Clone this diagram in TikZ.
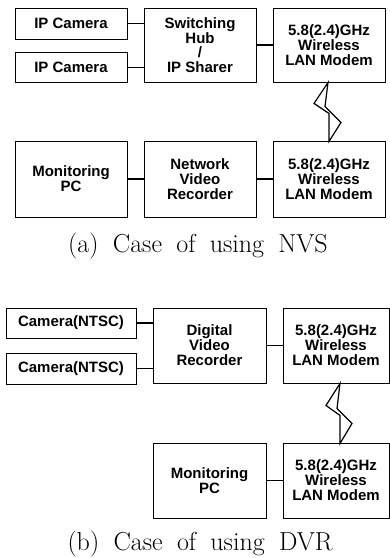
\documentclass[tikz,border=0pt]{standalone}
\usepackage{fontspec}
\newfontfamily\boxfont{Liberation Sans}
\usetikzlibrary{calc}
\newcommand\wsp{\spaceskip=0.55em\relax}
\begin{document}
\begin{tikzpicture}[x=1pt,y=-1pt,
  box/.style={draw, line width=0.9pt, inner sep=0pt, align=center,
    font=\boxfont\bfseries\fontsize{15}{15}\selectfont},
  wire/.style={line width=1.1pt},
  bolt/.style={draw, line width=1.2pt, line join=miter, fill=white},
  capt/.style={inner sep=0pt, anchor=base,
    font=\fontsize{26}{30}\selectfont}]
\useasboundingbox (0,0) rectangle (390,558);
% (a)
\node[box, minimum width=112pt, minimum height=31pt] (ipc1) at (71,23.5) {IP Camera};
\node[box, minimum width=112pt, minimum height=30pt] (ipc2) at (71,67.5) {IP Camera};
\node[box, minimum width=112pt, minimum height=74pt] (hub) at (200,45) {Switching\\[-0.3pt]Hub\\[-0.3pt]/\\[-0.3pt]IP Sharer};
\node[box, minimum width=112pt, minimum height=74pt] (mA) at (329,45) {5.8(2.4)GHz\\Wireless\\LAN Modem};
\node[box, minimum width=112pt, minimum height=76pt] (pcA) at (71,179) {Monitoring\\PC};
\node[box, minimum width=112pt, minimum height=76pt] (nvr) at (200,179) {Network\\Video\\Recorder};
\node[box, minimum width=112pt, minimum height=76pt] (mB) at (329,179) {5.8(2.4)GHz\\Wireless\\LAN Modem};
\draw[wire] (ipc1.east) -- (ipc1.east -| hub.west);
\draw[wire] (ipc2.east) -- (ipc2.east -| hub.west);
\draw[wire] (hub.east) -- (mA.west);
\draw[wire] (pcA.east) -- (nvr.west);
\draw[wire] (nvr.east) -- (mB.west);
\coordinate (b1) at ($(mA.south)+(-1,0)$);
\draw[bolt] (b1) -- +(-14,21) -- +(1,31) -- +(1,59) -- +(13,40) -- +(-3,24) -- cycle;
\node[capt] (capA) at (198,252) {\wsp (a) Case of using NVS};
% (b)
\node[box, minimum width=130pt, minimum height=30pt] (cam1) at (71,323) {Camera(NTSC)};
\node[box, minimum width=130pt, minimum height=31pt] (cam2) at (71,368.5) {Camera(NTSC)};
\node[box, minimum width=113pt, minimum height=75pt] (dvr) at (209.5,345.5) {Digital\\Video\\Recorder};
\node[box, minimum width=106pt, minimum height=75pt] (mC) at (336,345.5) {5.8(2.4)GHz\\Wireless\\LAN Modem};
\node[box, minimum width=113pt, minimum height=75pt] (pcB) at (209.5,480.5) {Monitoring\\PC};
\node[box, minimum width=106pt, minimum height=75pt] (mD) at (336,480.5) {5.8(2.4)GHz\\Wireless\\LAN Modem};
\draw[wire] (cam1.east) -- (cam1.east -| dvr.west);
\draw[wire] (cam2.east) -- (cam2.east -| dvr.west);
\draw[wire] (dvr.east) -- (mC.west);
\draw[wire] (pcB.east) -- (mD.west);
\coordinate (b2) at ($(mC.south)+(4,0)$);
\draw[bolt] (b2) -- +(-14,22) -- +(0,32) -- +(0,60) -- +(12,40) -- +(-3,25) -- cycle;
\node[capt] (capB) at (200,550) {\wsp (b) Case of using DVR};
\end{tikzpicture}
\end{document}
